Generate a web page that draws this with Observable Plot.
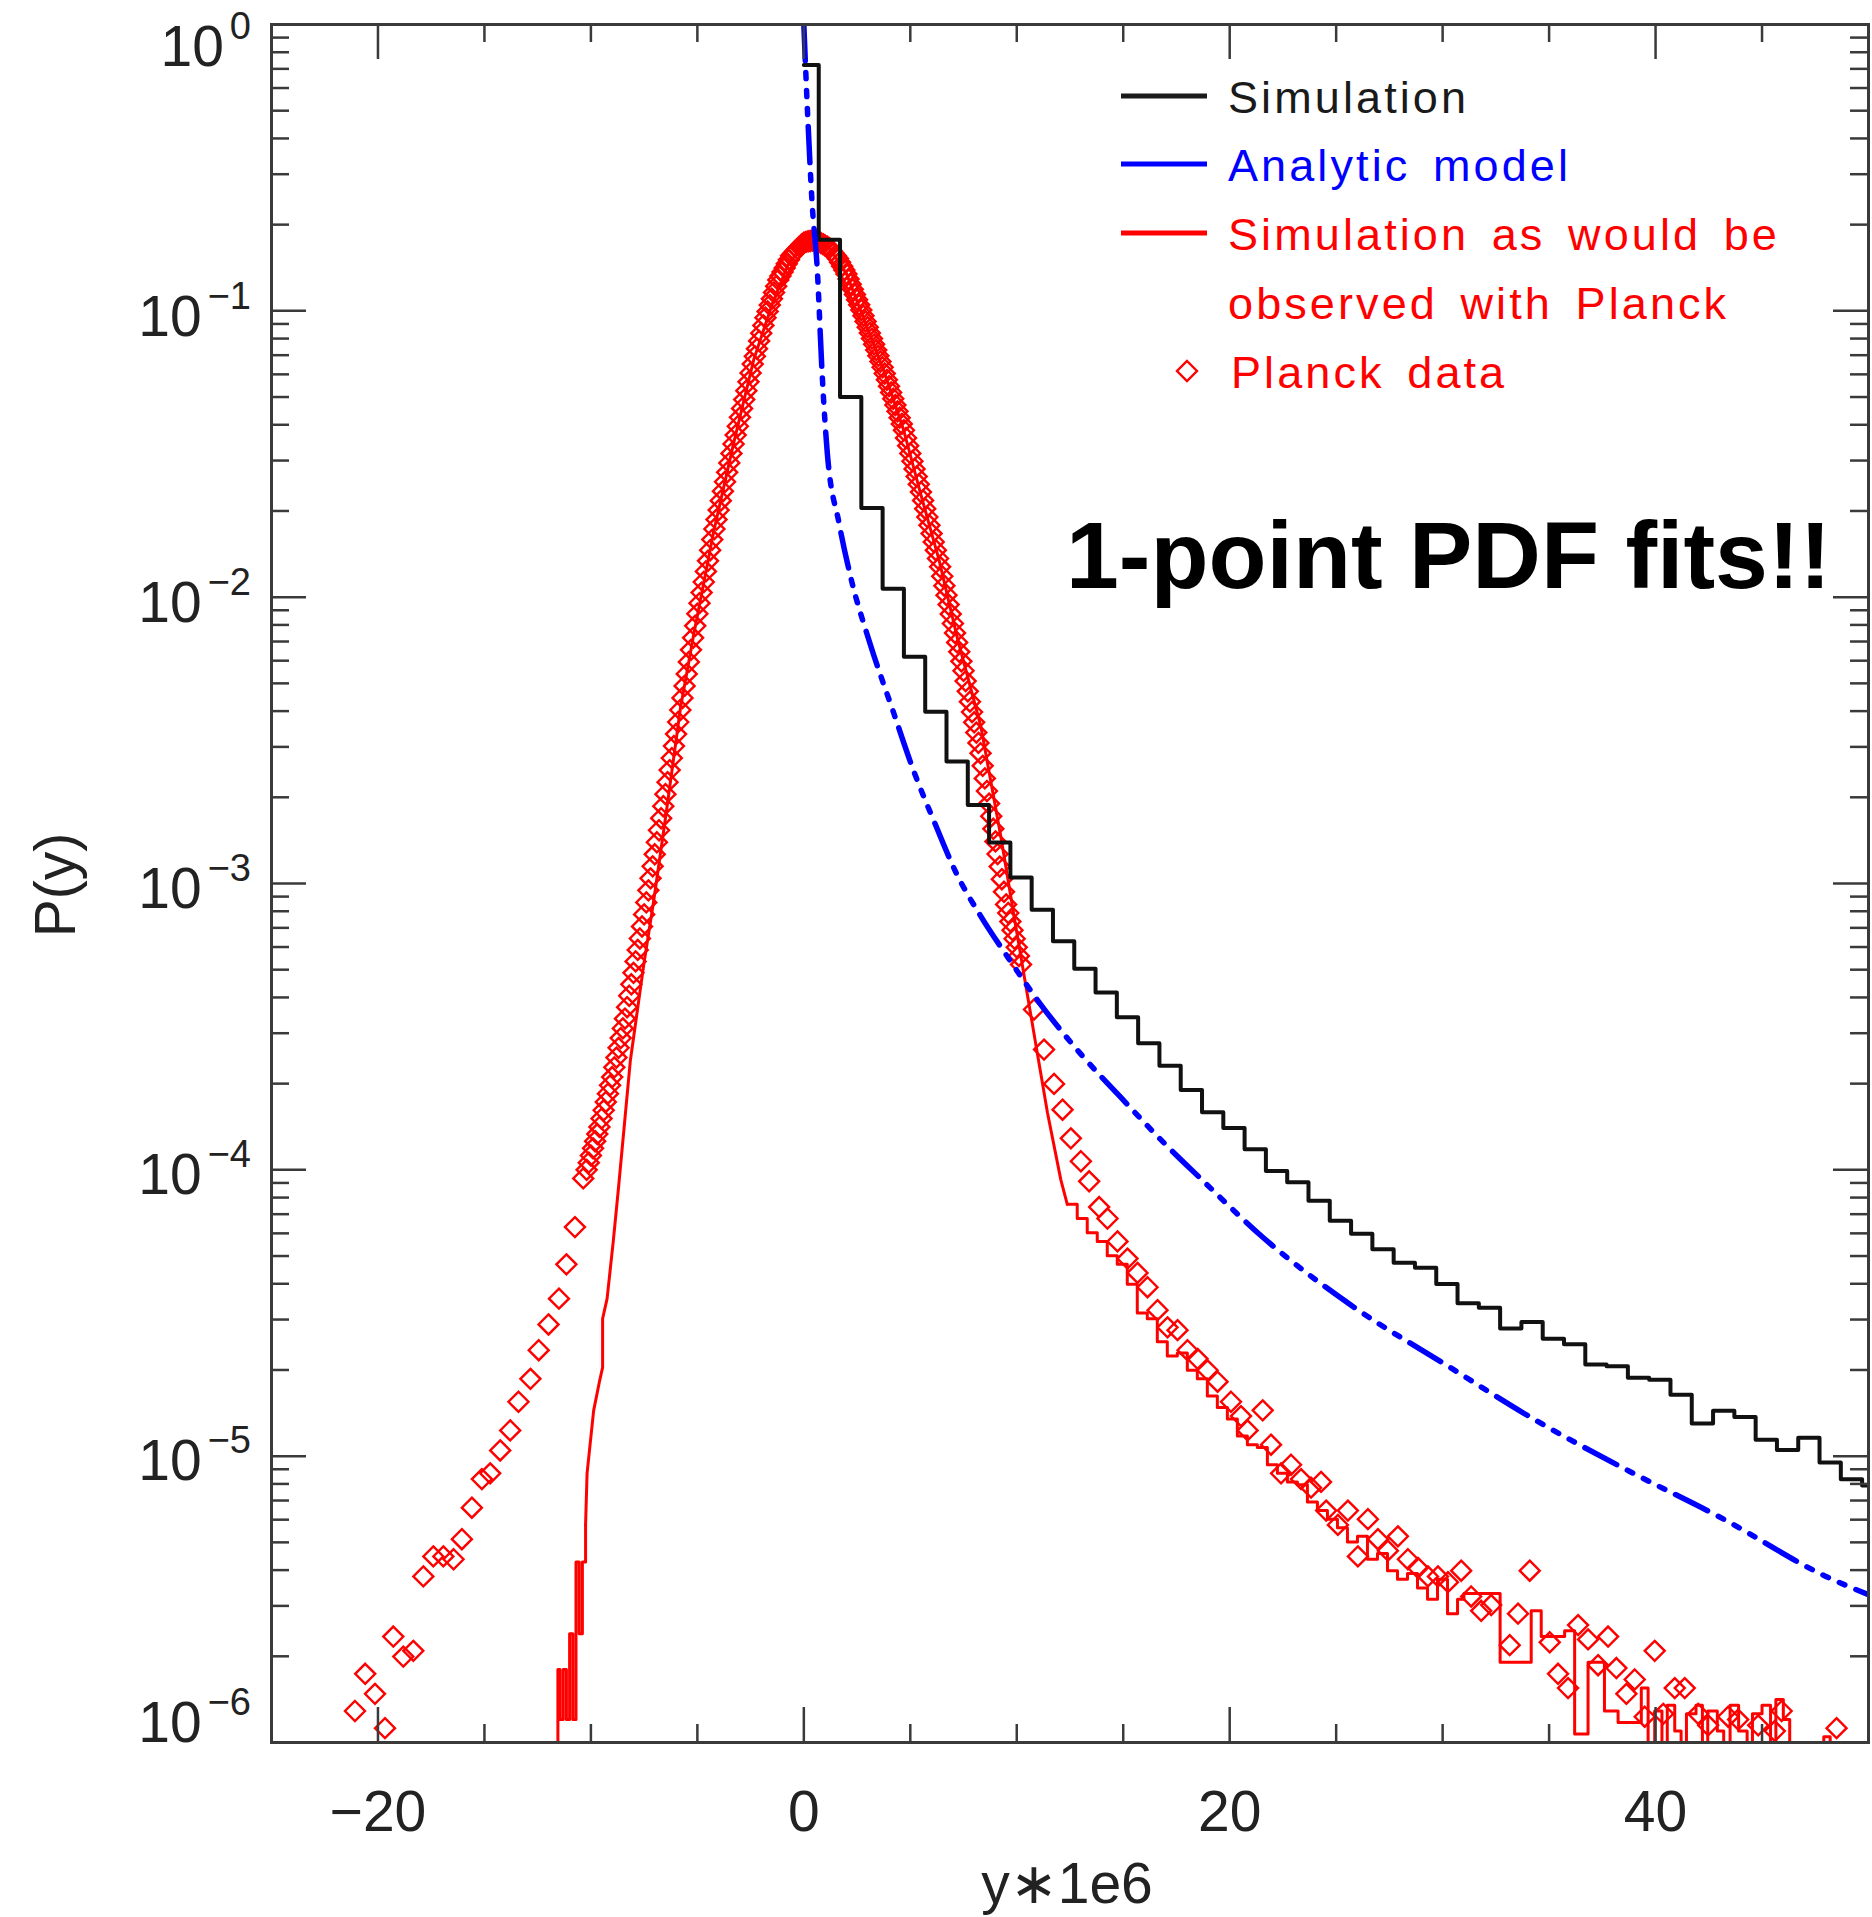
<!DOCTYPE html>
<html><head><meta charset="utf-8">
<script src="https://cdn.jsdelivr.net/npm/d3@7"></script>
<script src="https://cdn.jsdelivr.net/npm/@observablehq/plot@0.6"></script>
<style>html,body{margin:0;padding:0;background:#fff;}</style>
</head><body>
<div id="chart"></div>
<script>
// ---------------- data ----------------
const xDomain = [-25, 50];
const yDomain = [1e-6, 1];
const xMajorTicks = [-20, 0, 20, 40];
const xMinorTicks = [-15, -10, -5, 5, 10, 15, 25, 30, 35, 45];
const yMajorTicks = [1, 1e-1, 1e-2, 1e-3, 1e-4, 1e-5, 1e-6];
const yTickExponents = ["0", "\u22121", "\u22122", "\u22123", "\u22124", "\u22125", "\u22126"];
const xLabel = "y\u22171e6";
const yLabel = "P(y)";
const legendLabels = ["Simulation", "Analytic model", "Simulation as would be", "observed with Planck", "Planck data"];
const annotation = "1-point PDF fits!!";

// Simulation histogram (black): bin edges and heights
const simEdges = [0, 0.7, 1.7, 2.7, 3.7, 4.7, 5.7, 6.7, 7.7, 8.7, 9.7, 10.7, 11.7, 12.7, 13.7, 14.7, 15.7, 16.7, 17.7, 18.7, 19.7,
  20.7, 21.7, 22.7, 23.7, 24.7, 25.7, 26.7, 27.7, 28.7, 29.7, 30.7, 31.7, 32.7, 33.7, 34.7, 35.7, 36.7, 37.7, 38.7, 39.7,
  40.7, 41.7, 42.7, 43.7, 44.7, 45.7, 46.7, 47.7, 48.7, 49.7, 50];
const simP = [0.722, 0.177, 0.0500, 0.0205, 0.0107, 0.00619, 0.00398, 0.00267, 0.00188, 0.00139, 0.00105,
  8.1e-4, 6.28e-4, 5.04e-4, 4.16e-4, 3.41e-4, 2.77e-4, 2.31e-4, 1.90e-4, 1.59e-4, 1.40e-4,
  1.18e-4, 9.9e-5, 9.05e-5, 7.8e-5, 6.64e-5, 5.98e-5, 5.28e-5, 4.74e-5, 4.55e-5, 3.99e-5,
  3.42e-5, 3.30e-5, 2.79e-5, 2.94e-5, 2.57e-5, 2.46e-5, 2.09e-5, 2.06e-5, 1.88e-5, 1.85e-5,
  1.64e-5, 1.30e-5, 1.44e-5, 1.37e-5, 1.14e-5, 1.05e-5, 1.16e-5, 9.5e-6, 8.3e-6, 7.9e-6];

// Analytic model (blue)
const modelX = [0.0, 0.16, 0.39, 0.63, 0.86, 1.1, 1.65, 2.2, 3.1, 4.2, 5.2, 6.1, 7.2, 8.3, 9.6, 11.1, 13.0, 14.9, 16.9, 18.7,
  21.5, 25.8, 30.2, 34.4, 38.7, 43.2, 48.0, 50.0];
const modelLog10P = [0.0, -0.283, -0.625, -0.854, -1.22, -1.495, -1.74, -1.93, -2.16, -2.40, -2.615, -2.78, -2.97, -3.113,
  -3.26, -3.42, -3.595, -3.748, -3.905, -4.035, -4.232, -4.478, -4.683, -4.876, -5.05, -5.22, -5.42, -5.484];

// Simulation as observed with Planck (red line): noisy left foot (steps), smooth core, noisy tail (steps)
const obsLeftX = [-11.6, -11.55, -11.45, -11.3, -11.15, -11.0, -10.85, -10.7, -10.55, -10.4, -10.25];
const obsLeftLog10P = [-6.3, -5.745, -5.92, -5.745, -5.92, -5.62, -5.92, -5.37, -5.62, -5.37, -5.24];
const obsCoreX = [-10.25, -10.18, -9.87, -9.6, -9.45, -9.45, -9.24, -8.95, -8.7, -8.15, -7.52, -7.05, -6.42, -5.8, -5.17,
  -4.23, -3.29, -2.35, -1.5, -0.75, 0.0, 0.55, 1.2, 2.0, 2.67, 3.76, 4.7, 5.49, 6.35, 7.2, 8.31, 9.25, 9.87, 10.5,
  10.97, 11.44, 12.07, 12.37];
const obsCoreLog10P = [-5.24, -5.06, -4.84, -4.74, -4.69, -4.52, -4.45, -4.25, -4.06, -3.62, -3.285, -3.06, -2.73, -2.39, -2.13,
  -1.77, -1.46, -1.17, -0.98, -0.84, -0.768, -0.757, -0.78, -0.87, -1.0, -1.21, -1.42, -1.64, -1.87, -2.14, -2.45, -2.836, -3.113, -3.389,
  -3.595, -3.80, -4.035, -4.12];
const obsTailX = [12.37, 12.84, 13.31, 13.78, 14.25, 14.72, 15.19, 15.66, 16.13, 16.6, 17.07, 17.54, 18.01, 18.48, 18.95, 19.42,
  19.89, 20.36, 20.83, 21.3, 21.77, 22.24, 22.71, 23.18, 23.65, 24.12, 24.59, 25.06, 25.53, 26.0, 26.47, 26.94, 27.41, 27.88,
  28.35, 28.82, 29.29, 29.76, 30.23, 30.7, 31.0, 32.7, 34.16, 34.63, 35.73, 36.2, 36.83, 37.6, 38.24, 39.33, 39.65, 39.96,
  40.3, 40.55, 40.9, 41.2, 41.45, 41.9, 42.2, 42.45, 42.9, 43.2, 43.5, 43.9, 44.3, 44.55, 45.0, 45.4, 45.65, 46.0, 46.3,
  47.9, 48.2, 48.5];
const obsTailLog10P = [-4.12, -4.17, -4.22, -4.25, -4.30, -4.33, -4.40, -4.50, -4.52, -4.60, -4.65, -4.64, -4.70, -4.73, -4.79, -4.83,
  -4.87, -4.93, -4.96, -4.97, -5.03, -5.06, -5.09, -5.10, -5.16, -5.19, -5.22, -5.25, -5.30, -5.28, -5.36, -5.34, -5.40, -5.43,
  -5.41, -5.46, -5.50, -5.43, -5.55, -5.50, -5.48, -5.72, -5.54, -5.63, -5.61, -5.97, -5.72, -5.89, -5.93, -5.81, -6.3, -5.89,
  -6.3, -5.87, -5.96, -6.3, -5.90, -5.87, -6.3, -5.89, -5.96, -6.3, -5.87, -5.96, -6.3, -5.90, -5.87, -6.3, -5.85, -5.92, -6.3,
  -5.98, -6.3, -6.3];

// Planck data (red diamonds): sparse left tail, dense core band, sparse right tail
const planckLeftX = [-21.08, -20.60, -20.14, -19.67, -19.28, -18.81, -18.34, -17.87, -17.40, -16.93, -16.45, -16.06, -15.59,
  -15.12, -14.73, -14.26, -13.79, -13.40, -12.84, -12.45, -11.99, -11.50, -11.15, -10.75, -10.36];
const planckLeftLog10P = [-5.89, -5.76, -5.83, -5.95, -5.63, -5.70, -5.68, -5.42, -5.35, -5.35, -5.36, -5.29, -5.18,
  -5.08, -5.06, -4.98, -4.91, -4.81, -4.73, -4.63, -4.54, -4.45, -4.33, -4.20, -4.03];
const planckBandX = [
  -10.2, -10.1, -10.0, -9.9, -9.8, -9.7, -9.6, -9.5, -9.4, -9.3,
  -9.2, -9.1, -9.0, -8.9, -8.8, -8.7, -8.6, -8.5, -8.4, -8.3,
  -8.2, -8.1, -8.0, -7.9, -7.8, -7.7, -7.6, -7.5, -7.4, -7.3,
  -7.2, -7.1, -7.0, -6.9, -6.8, -6.7, -6.6, -6.5, -6.4, -6.3,
  -6.2, -6.1, -6.0, -5.9, -5.8, -5.7, -5.6, -5.5, -5.4, -5.3,
  -5.2, -5.1, -5.0, -4.9, -4.8, -4.7, -4.6, -4.5, -4.4, -4.3,
  -4.2, -4.1, -4.0, -3.9, -3.8, -3.7, -3.6, -3.5, -3.4, -3.3,
  -3.2, -3.1, -3.0, -2.9, -2.8, -2.7, -2.6, -2.5, -2.4, -2.3,
  -2.2, -2.1, -2.0, -1.9, -1.8, -1.7, -1.6, -1.5, -1.4, -1.3,
  -1.2, -1.1, -1.0, -0.9, -0.8, -0.7, -0.6, -0.5, -0.4, -0.3,
  -0.2, -0.1, 0.0, 0.1, 0.2, 0.3, 0.4, 0.5, 0.6, 0.7,
  0.8, 0.9, 1.0, 1.1, 1.2, 1.3, 1.4, 1.5, 1.6, 1.7,
  1.8, 1.9, 2.0, 2.1, 2.2, 2.3, 2.4, 2.5, 2.6, 2.7,
  2.8, 2.9, 3.0, 3.1, 3.2, 3.3, 3.4, 3.5, 3.6, 3.7,
  3.8, 3.9, 4.0, 4.1, 4.2, 4.3, 4.4, 4.5, 4.6, 4.7,
  4.8, 4.9, 5.0, 5.1, 5.2, 5.3, 5.4, 5.5, 5.6, 5.7,
  5.8, 5.9, 6.0, 6.1, 6.2, 6.3, 6.4, 6.5, 6.6, 6.7,
  6.8, 6.9, 7.0, 7.1, 7.2, 7.3, 7.4, 7.5, 7.6, 7.7,
  7.8, 7.9, 8.0, 8.1, 8.2, 8.3, 8.4, 8.5, 8.6, 8.7,
  8.8, 8.9, 9.0, 9.1, 9.2, 9.3, 9.4, 9.5, 9.6, 9.7,
  9.8, 9.9, 10.0, 10.1, 10.2];
const planckBandLog10P = [
  -4.000, -3.975, -3.950, -3.925, -3.900, -3.875, -3.850, -3.821, -3.792, -3.763,
  -3.734, -3.705, -3.676, -3.642, -3.608, -3.574, -3.540, -3.506, -3.472, -3.432,
  -3.392, -3.352, -3.312, -3.272, -3.232, -3.192, -3.150, -3.108, -3.066, -3.024,
  -2.982, -2.940, -2.898, -2.856, -2.814, -2.772, -2.730, -2.688, -2.646, -2.604,
  -2.562, -2.520, -2.478, -2.436, -2.394, -2.352, -2.310, -2.268, -2.226, -2.184,
  -2.142, -2.100, -2.058, -2.021, -1.984, -1.947, -1.910, -1.873, -1.836, -1.799,
  -1.762, -1.729, -1.696, -1.663, -1.630, -1.597, -1.564, -1.531, -1.498, -1.465,
  -1.434, -1.403, -1.372, -1.341, -1.310, -1.279, -1.248, -1.217, -1.186, -1.159,
  -1.132, -1.105, -1.078, -1.051, -1.024, -1.002, -0.980, -0.958, -0.936, -0.914,
  -0.892, -0.878, -0.864, -0.850, -0.836, -0.822, -0.808, -0.800, -0.792, -0.784,
  -0.776, -0.768, -0.762, -0.759, -0.757, -0.756, -0.755, -0.755, -0.756, -0.758,
  -0.763, -0.767, -0.772, -0.776, -0.781, -0.790, -0.799, -0.808, -0.817, -0.830,
  -0.844, -0.857, -0.871, -0.889, -0.907, -0.925, -0.943, -0.961, -0.979, -0.997,
  -1.017, -1.037, -1.057, -1.077, -1.097, -1.117, -1.137, -1.157, -1.177, -1.197,
  -1.219, -1.241, -1.263, -1.285, -1.307, -1.329, -1.351, -1.373, -1.395, -1.417,
  -1.444, -1.471, -1.498, -1.525, -1.552, -1.579, -1.606, -1.633, -1.662, -1.691,
  -1.720, -1.749, -1.778, -1.807, -1.836, -1.865, -1.894, -1.927, -1.960, -1.993,
  -2.026, -2.059, -2.092, -2.125, -2.158, -2.191, -2.224, -2.257, -2.293, -2.329,
  -2.365, -2.401, -2.437, -2.473, -2.509, -2.545, -2.589, -2.633, -2.677, -2.721,
  -2.765, -2.809, -2.853, -2.897, -2.941, -2.985, -3.029, -3.073, -3.103, -3.133,
  -3.163, -3.193, -3.223, -3.253, -3.283];
const planckRightX = [10.81, 11.28, 11.75, 12.15, 12.54, 13.01, 13.40, 13.87, 14.26, 14.73, 15.20, 15.67, 16.14, 16.61, 17.08,
  17.55, 18.02, 18.49, 18.96, 19.43, 20.06, 20.53, 20.84, 21.55, 21.94, 22.41, 22.88, 23.35, 23.82, 24.29, 24.53, 25.08,
  25.55, 26.02, 26.49, 26.96, 27.43, 27.90, 28.37, 28.84, 29.31, 29.78, 30.25, 30.87, 31.34, 31.81, 32.28, 33.15, 33.54,
  34.09, 35.03, 35.42, 35.89, 36.36, 36.83, 37.30, 37.77, 38.16, 38.63, 39.02, 39.49, 39.96, 40.36, 40.90, 41.37, 42.00,
  42.47, 43.41, 43.88, 44.82, 45.60, 45.92, 48.50];
const planckRightLog10P = [-3.44, -3.58, -3.70, -3.79, -3.89, -3.97, -4.04, -4.13, -4.17, -4.25, -4.31, -4.36, -4.41, -4.49, -4.55,
  -4.56, -4.63, -4.66, -4.70, -4.74, -4.81, -4.86, -4.91, -4.84, -4.96, -5.06, -5.03, -5.08, -5.11, -5.09, -5.19, -5.24,
  -5.19, -5.35, -5.22, -5.29, -5.33, -5.28, -5.36, -5.39, -5.42, -5.42, -5.44, -5.40, -5.49, -5.54, -5.52, -5.66, -5.55,
  -5.40, -5.65, -5.76, -5.81, -5.59, -5.64, -5.73, -5.63, -5.74, -5.83, -5.78, -5.91, -5.68, -5.90, -5.81, -5.81, -5.90,
  -5.94, -5.91, -5.92, -5.94, -5.96, -5.89, -5.95];

// ---------------- build tables ----------------
const toRows = (xs, logs) => xs.map((x, i) => ({x, p: 10 ** logs[i]}));
const simData = simP.map((p, i) => ({x: simEdges[i], p}));
simData.push({x: simEdges[simEdges.length - 1], p: simP[simP.length - 1]});
const modelData = toRows(modelX, modelLog10P);
const obsLeft = toRows(obsLeftX, obsLeftLog10P);
const obsCore = toRows(obsCoreX, obsCoreLog10P);
const obsTail = toRows(obsTailX, obsTailLog10P);
const planckData = [...toRows(planckLeftX, planckLeftLog10P), ...toRows(planckBandX, planckBandLog10P),
  ...toRows(planckRightX, planckRightLog10P)];
const yMinorTicks = [];
for (let k = -6; k < 0; ++k) for (let m = 2; m <= 9; ++m) yMinorTicks.push(m * 10 ** k);

// ---------------- layout / style ----------------
const W = 1872, H = 1917;
const M = {top: 24, right: 4, bottom: 175, left: 271};
const FW = W - M.left - M.right, FH = H - M.top - M.bottom;
const FONT = "'Liberation Sans', Arial, Helvetica, sans-serif";
const AX = "#3a3a3a";
const RED = "#ff0000", BLUE = "#0000ff", BLACK = "#111111";
const majorLen = 35, minorLen = 18;
const fmtX = d => d < 0 ? "\u2212" + (-d) : String(d);

const chart = Plot.plot({
  width: W, height: H,
  marginTop: M.top, marginRight: M.right, marginBottom: M.bottom, marginLeft: M.left,
  x: {domain: xDomain, axis: null},
  y: {type: "log", domain: yDomain, axis: null},
  style: {fontFamily: FONT, background: "#ffffff", color: "#222"},
  marks: [
    Plot.dot(planckData, {x: "x", y: "p", symbol: "diamond2", r: 9, stroke: RED, strokeWidth: 2.4, fill: "none", clip: true}),
    Plot.line(obsLeft, {x: "x", y: "p", curve: "step-after", stroke: RED, strokeWidth: 3, clip: true}),
    Plot.line(obsCore, {x: "x", y: "p", curve: "linear", stroke: RED, strokeWidth: 3, clip: true}),
    Plot.line(obsTail, {x: "x", y: "p", curve: "step-after", stroke: RED, strokeWidth: 3, clip: true}),
    Plot.line(simData, {x: "x", y: "p", curve: "step-after", stroke: BLACK, strokeWidth: 4, clip: true}),
    Plot.line(modelData, {x: "x", y: "p", curve: "monotone-x", stroke: BLUE, strokeWidth: 5.5,
      strokeDasharray: "36,12,6,12,6,12,6,12", clip: true}),
    // inward ticks on all four sides
    Plot.ruleX(xMajorTicks, {x: d => d, stroke: AX, strokeWidth: 2.5, insetTop: FH - majorLen}),
    Plot.ruleX(xMajorTicks, {x: d => d, stroke: AX, strokeWidth: 2.5, insetBottom: FH - majorLen}),
    Plot.ruleX(xMinorTicks, {x: d => d, stroke: AX, strokeWidth: 2.5, insetTop: FH - minorLen}),
    Plot.ruleX(xMinorTicks, {x: d => d, stroke: AX, strokeWidth: 2.5, insetBottom: FH - minorLen}),
    Plot.ruleY(yMajorTicks, {y: d => d, stroke: AX, strokeWidth: 2.5, insetRight: FW - majorLen}),
    Plot.ruleY(yMajorTicks, {y: d => d, stroke: AX, strokeWidth: 2.5, insetLeft: FW - majorLen}),
    Plot.ruleY(yMinorTicks, {y: d => d, stroke: AX, strokeWidth: 2.5, insetRight: FW - minorLen}),
    Plot.ruleY(yMinorTicks, {y: d => d, stroke: AX, strokeWidth: 2.5, insetLeft: FW - minorLen}),
    Plot.frame({stroke: AX, strokeWidth: 3}),
    // x tick labels and x label
    Plot.text(xMajorTicks, {x: d => d, frameAnchor: "bottom", lineAnchor: "bottom", dy: 88, text: fmtX,
      fontSize: 57, fill: "#222"}),
    Plot.text([xLabel], {frameAnchor: "bottom", lineAnchor: "bottom", dy: 160, text: d => d, fontSize: 57, fill: "#222", dx: -3})
  ]
});
document.getElementById("chart").appendChild(chart);

// ---------------- y tick labels with superscripts, y label, legend, annotation ----------------
const svg = d3.select(chart);
const yS = chart.scale("y");
const yLabelShift = [42, 26, 25, 25, 25, 24, 0];
const gy = svg.append("g").attr("font-family", FONT).attr("fill", "#222");
yMajorTicks.forEach((v, i) => {
  const t = gy.append("text").attr("x", 251).attr("y", yS.apply(v) + yLabelShift[i])
    .attr("text-anchor", "end").attr("font-size", 57);
  t.append("tspan").text("10");
  t.append("tspan").attr("font-size", 38).attr("dx", 6).attr("dy", -27).text(yTickExponents[i]);
});
gy.append("text").attr("transform", "translate(75,885) rotate(-90)").attr("text-anchor", "middle")
  .attr("font-size", 57).text(yLabel);

const gl = svg.append("g").attr("font-family", FONT).attr("font-size", 45).attr("text-anchor", "start")
  .attr("letter-spacing", 3.1).attr("word-spacing", 7);
const legendRows = [
  {y: 113, color: "#1a1a1a", line: true, text: legendLabels[0]},
  {y: 181, color: BLUE, line: true, text: legendLabels[1]},
  {y: 250, color: RED, line: true, text: legendLabels[2]},
  {y: 319, color: RED, line: false, text: legendLabels[3]},
  {y: 388, color: RED, diamond: true, text: legendLabels[4]}
];
legendRows.forEach(r => {
  if (r.line) gl.append("line").attr("x1", 1121).attr("x2", 1207).attr("y1", r.y - 17).attr("y2", r.y - 17)
    .attr("stroke", r.color).attr("stroke-width", 5);
  if (r.diamond) gl.append("path").attr("d", "M1187,361L1197,371L1187,381L1177,371Z")
    .attr("fill", "none").attr("stroke", r.color).attr("stroke-width", 2.4);
  gl.append("text").attr("x", r.diamond ? 1231 : 1228).attr("y", r.y).attr("text-anchor", "start")
    .attr("fill", r.color).text(r.text);
});

svg.append("text").attr("x", 1066).attr("y", 588).attr("text-anchor", "start").attr("font-family", FONT)
  .attr("font-weight", "bold").attr("font-size", 95).attr("fill", "#000").text(annotation);
</script>
</body></html>
